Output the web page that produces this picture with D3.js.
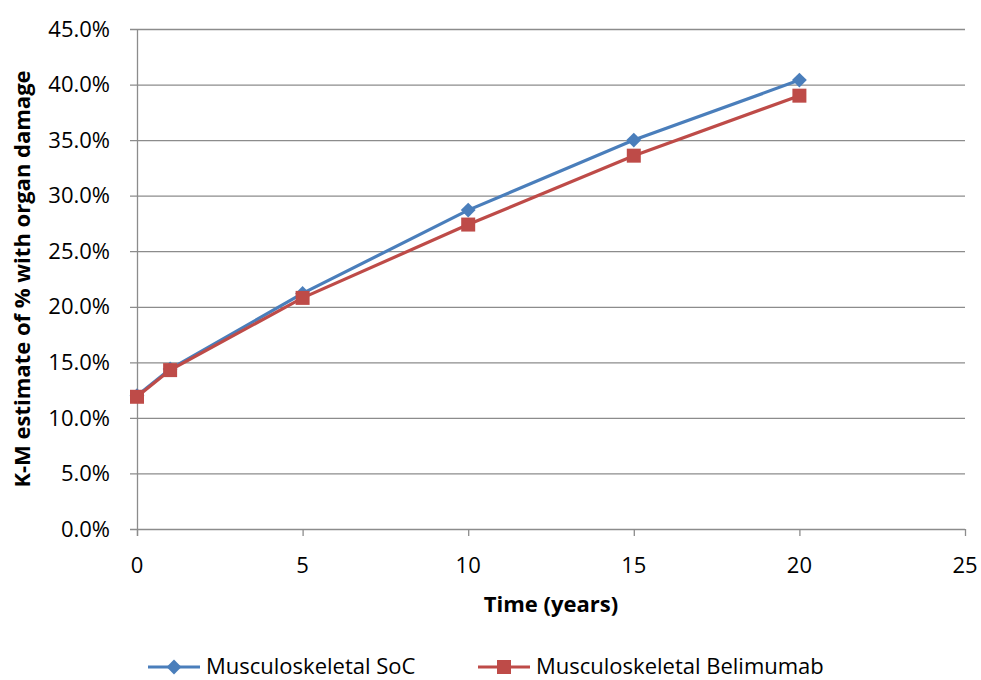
<!DOCTYPE html>
<html>
<head>
<meta charset="utf-8">
<script src="https://cdn.jsdelivr.net/npm/d3@7"></script>
<style>
  body { margin: 0; background: #fff; }
  .chart text { font-family: "Open Sans", "Liberation Sans", sans-serif; fill: #000; }
</style>
</head>
<body>
<div class="chart"></div>
<script>
// chart data
var years = [0, 1, 5, 10, 15, 20];
var socValues = [12.0, 14.4, 21.2, 28.7, 35.0, 40.4];
var belValues = [11.9, 14.3, 20.8, 27.4, 33.6, 39.0];
var seriesNames = ["Musculoskeletal SoC", "Musculoskeletal Belimumab"];
var xTicks = [0, 5, 10, 15, 20, 25];
var yTicks = [0, 5, 10, 15, 20, 25, 30, 35, 40, 45];

var svgWidth = 981;
var svgHeight = 680;
var margin = { top: 29, right: 16, bottom: 151, left: 137 };
var width = svgWidth - margin.left - margin.right;
var height = svgHeight - margin.top - margin.bottom;

var svg = d3.select(".chart")
  .append("svg")
  .attr("width", svgWidth)
  .attr("height", svgHeight);

var chartGroup = svg.append("g")
  .attr("transform", `translate(${margin.left}, ${margin.top})`);

var xScale = d3.scaleLinear().domain([0, 25]).range([0, width]);
var yScale = d3.scaleLinear().domain([0, 45]).range([height, 0]);

// gridlines
chartGroup.append("g")
  .selectAll("line")
  .data(yTicks)
  .enter()
  .append("line")
  .attr("x1", -7)
  .attr("x2", width)
  .attr("y1", d => yScale(d) + 0.5)
  .attr("y2", d => yScale(d) + 0.5)
  .attr("stroke", "#8c8c8c")
  .attr("stroke-width", 1.3);

// y axis line
chartGroup.append("line")
  .attr("x1", 0.5).attr("x2", 0.5)
  .attr("y1", 0).attr("y2", height + 7)
  .attr("stroke", "#8c8c8c")
  .attr("stroke-width", 1.3);

// x tick marks
chartGroup.append("g")
  .selectAll("line")
  .data(xTicks)
  .enter()
  .append("line")
  .attr("x1", d => xScale(d) + 0.5)
  .attr("x2", d => xScale(d) + 0.5)
  .attr("y1", height)
  .attr("y2", height + 7)
  .attr("stroke", "#8c8c8c")
  .attr("stroke-width", 1.3);

// tick labels
chartGroup.append("g")
  .selectAll("text")
  .data(yTicks)
  .enter()
  .append("text")
  .attr("x", -27)
  .attr("y", d => yScale(d))
  .attr("dy", "0.35em")
  .attr("text-anchor", "end")
  .style("font-size", "22px")
  .text(d => d3.format(".1f")(d) + "%");

chartGroup.append("g")
  .selectAll("text")
  .data(xTicks)
  .enter()
  .append("text")
  .attr("x", d => xScale(d))
  .attr("y", height + 44)
  .attr("text-anchor", "middle")
  .style("font-size", "22px")
  .text(d => d);

// axis titles
chartGroup.append("text")
  .attr("x", width / 2)
  .attr("y", height + 83)
  .attr("text-anchor", "middle")
  .style("font-size", "22px")
  .style("font-weight", "bold")
  .text("Time (years)");

svg.append("text")
  .attr("transform", `translate(30, ${margin.top + height / 2}) rotate(-90)`)
  .attr("text-anchor", "middle")
  .style("font-size", "22px")
  .style("font-weight", "bold")
  .text("K-M estimate of % with organ damage");

// lines
var line = d3.line()
  .x(d => xScale(d[0]))
  .y(d => yScale(d[1]));

var socData = years.map((y, i) => [y, socValues[i]]);
var belData = years.map((y, i) => [y, belValues[i]]);

var blue = "#4a7ebb";
var red = "#be4b48";

chartGroup.append("path")
  .data([socData])
  .attr("d", line)
  .attr("fill", "none")
  .attr("stroke", blue)
  .attr("stroke-width", 3.2);

chartGroup.append("path")
  .data([belData])
  .attr("d", line)
  .attr("fill", "none")
  .attr("stroke", red)
  .attr("stroke-width", 3.2);

var diamond = d3.symbol().type(d3.symbolSquare).size(110);
var square = d3.symbol().type(d3.symbolSquare).size(196);

chartGroup.selectAll(".soc")
  .data(socData)
  .enter()
  .append("path")
  .attr("class", "soc")
  .attr("d", diamond)
  .attr("transform", d => `translate(${xScale(d[0])}, ${yScale(d[1])}) rotate(45)`)
  .attr("fill", blue);

chartGroup.selectAll(".bel")
  .data(belData)
  .enter()
  .append("path")
  .attr("class", "bel")
  .attr("d", square)
  .attr("transform", d => `translate(${xScale(d[0])}, ${yScale(d[1])})`)
  .attr("fill", red);

// legend
var legendY = 667;
var legendItems = [
  { name: seriesNames[0], color: blue, x: 148, shape: diamond, rot: 45 },
  { name: seriesNames[1], color: red, x: 478, shape: square, rot: 0 }
];

legendItems.forEach(function(item) {
  var g = svg.append("g");
  g.append("line")
    .attr("x1", item.x).attr("x2", item.x + 52)
    .attr("y1", legendY).attr("y2", legendY)
    .attr("stroke", item.color)
    .attr("stroke-width", 3.2);
  g.append("path")
    .attr("d", item.shape)
    .attr("transform", `translate(${item.x + 26}, ${legendY}) rotate(${item.rot})`)
    .attr("fill", item.color);
  g.append("text")
    .attr("x", item.x + 58)
    .attr("y", legendY)
    .attr("dy", "0.33em")
    .style("font-size", "22px")
    .text(item.name);
});
</script>
</body>
</html>
